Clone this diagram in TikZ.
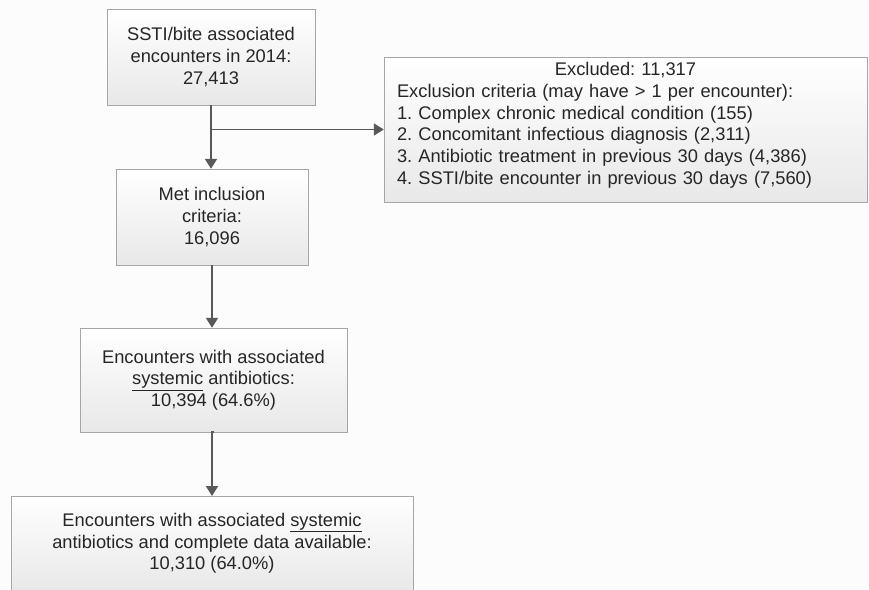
\documentclass[tikz,border=0pt]{standalone}
\usepackage{fontspec}
\setmainfont{Liberation Sans}
\usetikzlibrary{arrows.meta}
\frenchspacing
\begin{document}
\begin{tikzpicture}[x=1pt,y=-1pt,>={Triangle[width=12pt,length=10pt]},
	box/.style={draw=black!35,top color=white,bottom color=black!9,text=black!85,align=center,inner sep=0pt,
		font=\fontsize{18.3}{21.7}\selectfont},
	flow/.style={->,draw=black!65,line width=1.8pt}]
			\useasboundingbox[fill=black!1] (0,0) rectangle (869,589);
			\node[box,minimum width=208,minimum height=96] (enc) at (211,57) {SSTI/bite associated\\encounters in 2014:\\27,413};
			\node[box,minimum width=192,minimum height=96] (met) at (212,217) {Met inclusion\\criteria:\\16,096};
			\node[box,minimum width=267,minimum height=104] (abx) at (213.5,380) {Encounters with associated\\\underline{systemic} antibiotics:\\10,394 (64.6\%)};
			\node[box,minimum width=402,inner ysep=17pt,anchor=north] (full) at (212,496) {Encounters with associated \underline{systemic}\\antibiotics and complete data available:\\10,310 (64.0\%)};
			\node[box,minimum width=483,minimum height=145,text width=457pt,align=left] (excl) at (625.5,129.5) {\makebox[\linewidth]{Excluded: 11,317}\\Exclusion criteria (may have > 1 per encounter):\\1. Complex chronic medical condition (155)\\2. Concomitant infectious diagnosis (2,311)\\3. Antibiotic treatment in previous 30 days (4,386)\\4. SSTI/bite encounter in previous 30 days (7,560)\rule[-12pt]{0pt}{12pt}};
			\coordinate (split) at (enc.south |- excl.west);
			\draw[flow] (enc.south) -- (enc.south |- met.north);
			\draw[flow] (split) -- (excl.west);
			\draw[flow] (met.south) -- (met.south |- abx.north);
			\draw[flow] (abx.south) -- (abx.south -| full.north) -- (full.north);
		\end{tikzpicture}
\end{document}
